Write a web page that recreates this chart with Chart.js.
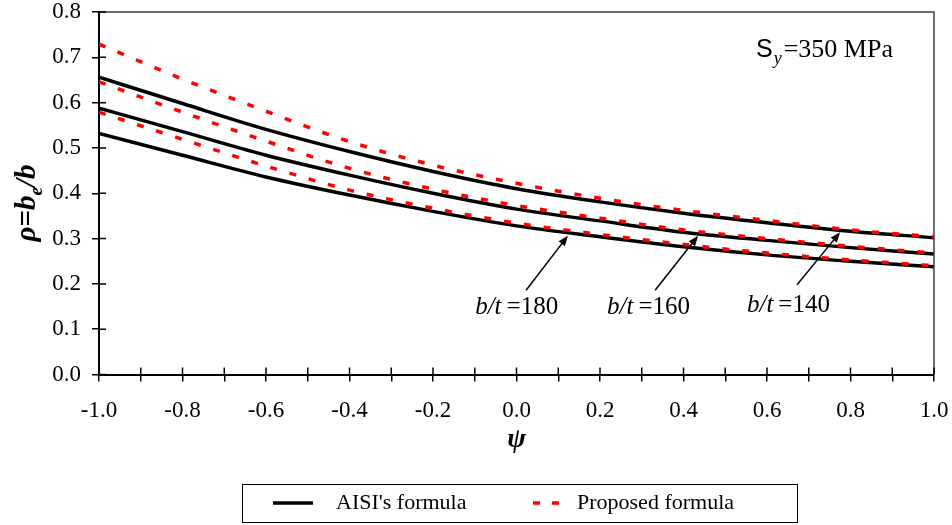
<!DOCTYPE html>
<html>
<head>
<meta charset="utf-8">
<script src="https://cdn.jsdelivr.net/npm/chart.js@4.4.1/dist/chart.umd.min.js"></script>
<style>
  html, body { margin: 0; padding: 0; background: #fff; }
</style>
</head>
<body>
<canvas id="rhoChart" width="952" height="525"></canvas>
<script>
// stress gradient ratio psi
const psi = [-1.0, -0.8, -0.6, -0.4, -0.2, 0.0, 0.2, 0.4, 0.6, 0.8, 1.0];

// AISI's formula, rho = be/b
const aisi140 = [0.656, 0.598, 0.541, 0.492, 0.448, 0.410, 0.381, 0.356, 0.335, 0.316, 0.302];
const aisi160 = [0.588, 0.536, 0.484, 0.440, 0.400, 0.365, 0.339, 0.314, 0.296, 0.280, 0.266];
const aisi180 = [0.532, 0.484, 0.436, 0.396, 0.360, 0.328, 0.304, 0.282, 0.264, 0.250, 0.238];

// proposed formula
const prop140 = [0.729, 0.652, 0.581, 0.514, 0.462, 0.422, 0.389, 0.362, 0.340, 0.319, 0.304];
const prop160 = [0.646, 0.579, 0.515, 0.455, 0.409, 0.373, 0.345, 0.319, 0.300, 0.283, 0.268];
const prop180 = [0.579, 0.519, 0.460, 0.407, 0.367, 0.334, 0.309, 0.287, 0.268, 0.253, 0.240];

const legendLabels = ["AISI's formula", "Proposed formula"];

// b/t callouts: text anchor and arrow, in data units
const callouts = [
  { text: '180', at: [-0.099, 0.134], tail: [0.023, 0.186], tip: [0.123, 0.306] },
  { text: '160', at: [0.217, 0.134], tail: [0.332, 0.186], tip: [0.435, 0.306] },
  { text: '140', at: [0.552, 0.138], tail: [0.672, 0.198], tip: [0.775, 0.314] }
];

const SERIF = '"Liberation Serif", "Times New Roman", serif';

function pts(ys) {
  return psi.map((x, i) => ({ x: x, y: ys[i] }));
}

function aisiSet(ys) {
  return { label: legendLabels[0], data: pts(ys), borderColor: '#000', borderWidth: 3.5,
           pointRadius: 0, cubicInterpolationMode: 'monotone', order: 1 };
}
function propSet(ys) {
  return { label: legendLabels[1], data: pts(ys), borderColor: '#ff0000', borderWidth: 3.5,
           borderDash: [7, 13], pointRadius: 0, cubicInterpolationMode: 'monotone', order: 0 };
}

// draw a row of text pieces, each {t, font, dy}
function runs(ctx, parts, x, y) {
  parts.forEach(p => {
    ctx.font = p.font;
    ctx.fillText(p.t, x, y + (p.dy || 0));
    x += ctx.measureText(p.t).width + (p.gap || 0);
  });
  return x;
}
function runsWidth(ctx, parts) {
  let w = 0;
  parts.forEach(p => { ctx.font = p.font; w += ctx.measureText(p.t).width + (p.gap || 0); });
  return w;
}

const decor = {
  id: 'decor',
  afterDraw(chart) {
    const ctx = chart.ctx;
    const a = chart.chartArea;
    const xs = chart.scales.x, ys = chart.scales.y;
    ctx.save();

    // top and right frame
    ctx.strokeStyle = '#404040';
    ctx.lineWidth = 1.5;
    ctx.beginPath();
    ctx.moveTo(a.left, a.top);
    ctx.lineTo(a.right, a.top);
    ctx.lineTo(a.right, a.bottom);
    ctx.stroke();

    // inner half of the crossing tick marks
    ctx.strokeStyle = '#000';
    ctx.lineWidth = 1.5;
    ctx.beginPath();
    xs.ticks.forEach(t => {
      const px = xs.getPixelForValue(t.value);
      ctx.moveTo(px, a.bottom);
      ctx.lineTo(px, a.bottom - 7);
    });
    ys.ticks.forEach(t => {
      const py = ys.getPixelForValue(t.value);
      ctx.moveTo(a.left, py);
      ctx.lineTo(a.left + 7, py);
    });
    ctx.stroke();

    ctx.fillStyle = '#000';
    ctx.textBaseline = 'alphabetic';
    ctx.textAlign = 'left';

    // y title, rotated
    const bi = 'italic bold 29px ' + SERIF;
    const yTitle = [
      { t: '\u03c1', font: bi },
      { t: '=', font: 'bold 29px ' + SERIF },
      { t: 'b', font: bi },
      { t: 'e', font: 'italic bold 19px ' + SERIF, dy: 7 },
      { t: '/b', font: bi }
    ];
    ctx.save();
    ctx.translate(35, 203);
    ctx.rotate(-Math.PI / 2);
    runs(ctx, yTitle, -runsWidth(ctx, yTitle) / 2, 0);
    ctx.restore();

    // x title
    ctx.font = 'italic bold 28px ' + SERIF;
    ctx.textAlign = 'center';
    ctx.textBaseline = 'middle';
    ctx.fillText('\u03c8', (a.left + a.right) / 2, 440);
    ctx.textAlign = 'left';
    ctx.textBaseline = 'alphabetic';

    // yield stress note
    runs(ctx, [
      { t: 'S', font: '25px "Liberation Sans", sans-serif', gap: 1 },
      { t: 'y', font: 'italic 18px ' + SERIF, dy: 7, gap: 2 },
      { t: '=350 MPa', font: '26px ' + SERIF }
    ], 756, 57);

    // b/t callouts with arrows
    callouts.forEach(c => {
      runs(ctx, [
        { t: 'b/t', font: 'italic 25px ' + SERIF, gap: 5 },
        { t: '=' + c.text, font: '25px ' + SERIF }
      ], xs.getPixelForValue(c.at[0]), ys.getPixelForValue(c.at[1]));
      const x0 = xs.getPixelForValue(c.tail[0]), y0 = ys.getPixelForValue(c.tail[1]);
      const x1 = xs.getPixelForValue(c.tip[0]), y1 = ys.getPixelForValue(c.tip[1]);
      const ang = Math.atan2(y1 - y0, x1 - x0);
      ctx.strokeStyle = '#000';
      ctx.lineWidth = 1.5;
      ctx.beginPath();
      ctx.moveTo(x0, y0);
      ctx.lineTo(x1 - 6 * Math.cos(ang), y1 - 6 * Math.sin(ang));
      ctx.stroke();
      ctx.beginPath();
      ctx.moveTo(x1, y1);
      ctx.lineTo(x1 - 10 * Math.cos(ang) + 4 * Math.sin(ang), y1 - 10 * Math.sin(ang) - 4 * Math.cos(ang));
      ctx.lineTo(x1 - 10 * Math.cos(ang) - 4 * Math.sin(ang), y1 - 10 * Math.sin(ang) + 4 * Math.cos(ang));
      ctx.closePath();
      ctx.fill();
    });

    // legend box
    ctx.strokeStyle = '#000';
    ctx.lineWidth = 1;
    ctx.strokeRect(242.5, 484.5, 555, 38);
    const ly = 503;
    ctx.lineWidth = 3.5;
    ctx.beginPath();
    ctx.moveTo(273, ly);
    ctx.lineTo(313, ly);
    ctx.stroke();
    ctx.strokeStyle = '#ff0000';
    ctx.setLineDash([7, 12]);
    ctx.beginPath();
    ctx.moveTo(533, ly);
    ctx.lineTo(560, ly);
    ctx.stroke();
    ctx.setLineDash([]);
    ctx.font = '22px ' + SERIF;
    ctx.textBaseline = 'middle';
    ctx.fillText(legendLabels[0], 336, ly);
    ctx.fillText(legendLabels[1], 577, ly);

    ctx.restore();
  }
};

const tickFont = { family: SERIF, size: 23 };

new Chart(document.getElementById('rhoChart'), {
  type: 'line',
  data: {
    datasets: [
      aisiSet(aisi140), aisiSet(aisi160), aisiSet(aisi180),
      propSet(prop140), propSet(prop160), propSet(prop180)
    ]
  },
  options: {
    responsive: false,
    animation: false,
    devicePixelRatio: 1,
    layout: { padding: { top: 12, right: 18, left: 0, bottom: 0 } },
    plugins: { legend: { display: false }, tooltip: { enabled: false } },
    scales: {
      x: {
        type: 'linear', min: -1, max: 1,
        afterFit: s => { s.height = 150.5; s.paddingLeft = 0; s.paddingRight = 0; },
        ticks: {
          stepSize: 0.1, autoSkip: false, maxRotation: 0, color: '#000', font: tickFont, padding: 16,
          callback: v => (Math.round(v * 10) % 2 === 0 ? v.toFixed(1) : '')
        },
        grid: { drawOnChartArea: false, tickLength: 7, color: '#000', lineWidth: 1.5 },
        border: { color: '#000', width: 2 }
      },
      y: {
        min: 0, max: 0.8,
        afterFit: s => { s.width = 99; s.paddingTop = 0; s.paddingBottom = 0; },
        ticks: { stepSize: 0.1, color: '#000', font: tickFont, padding: 11,
                 callback: v => v.toFixed(1) },
        grid: { drawOnChartArea: false, tickLength: 7, color: '#000', lineWidth: 1.5 },
        border: { color: '#000', width: 2 }
      }
    }
  },
  plugins: [decor]
});
</script>
</body>
</html>
